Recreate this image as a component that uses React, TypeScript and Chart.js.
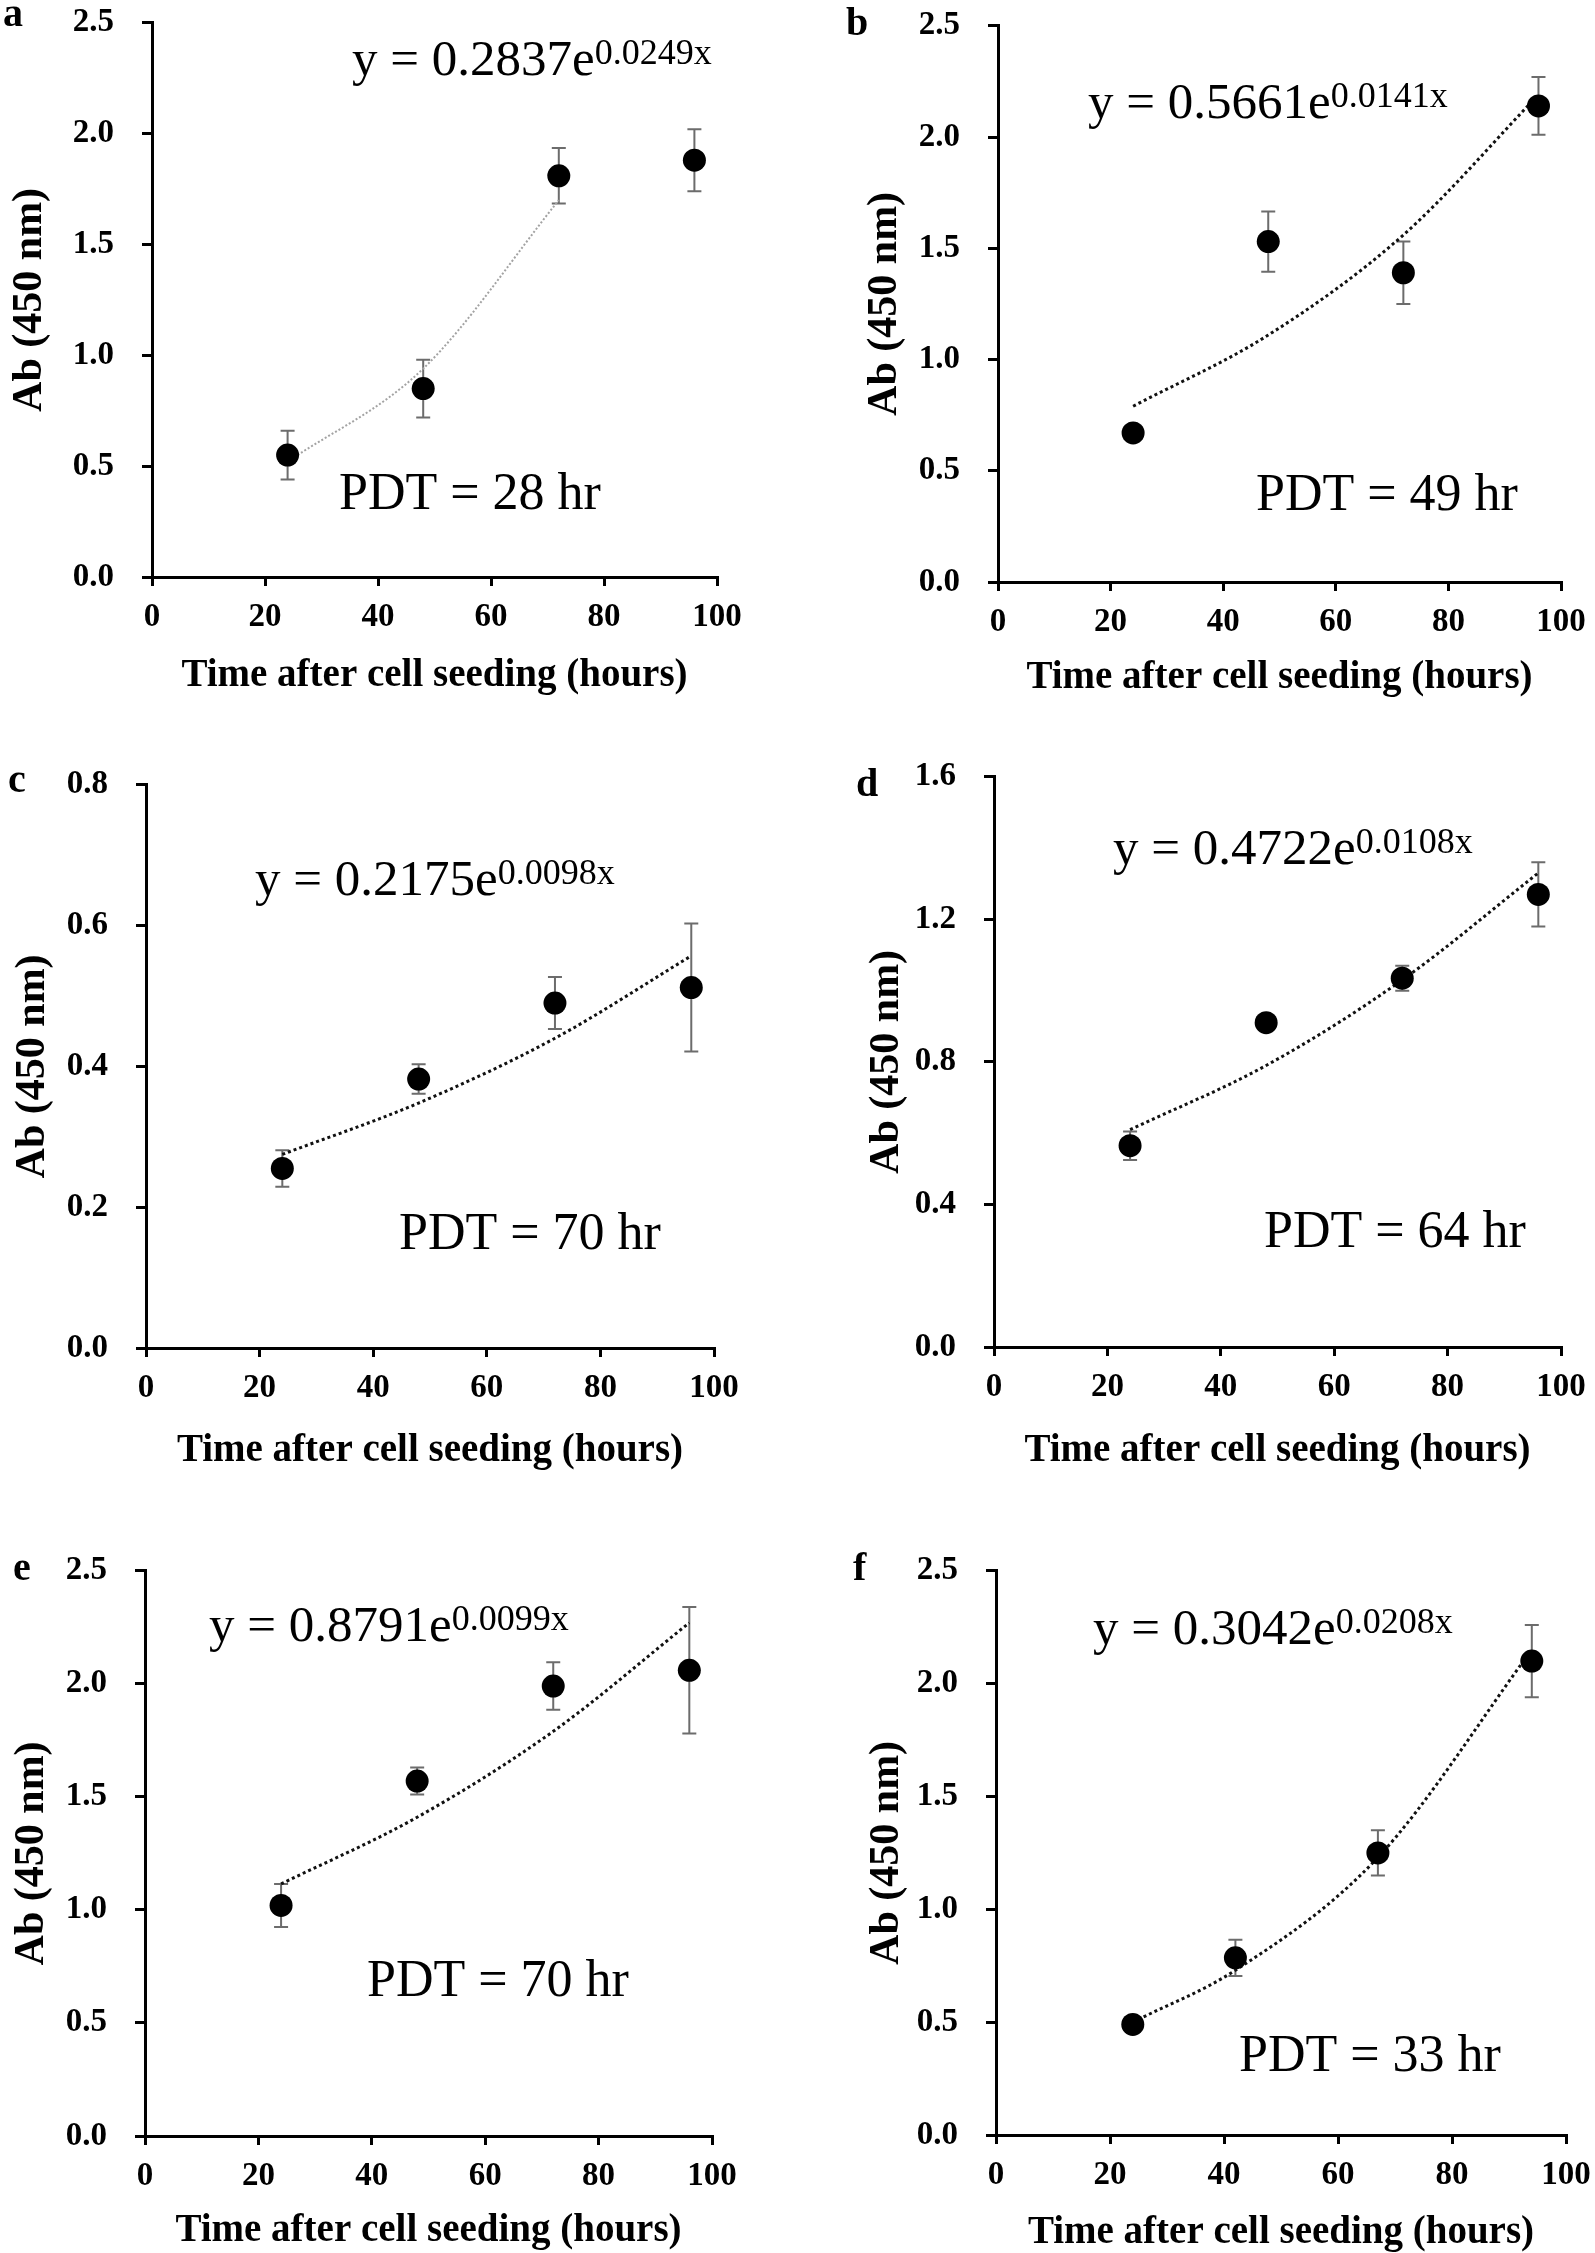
import React, { useEffect, useRef } from 'react';
import { Chart, registerables } from 'chart.js';

Chart.register(...registerables);

// ---------- data ----------
const xTicks = [0, 20, 40, 60, 80, 100];

const yTicksA = [0, 0.5, 1.0, 1.5, 2.0, 2.5];
const timeA = [24, 48, 72, 96];
const absA = [0.55, 0.85, 1.81, 1.88];
const errA = [0.11, 0.13, 0.125, 0.14];
const trendTimeA = [24, 48, 72];
const trendA = [0.52, 0.94, 1.7];

const yTicksB = [0, 0.5, 1.0, 1.5, 2.0, 2.5];
const timeB = [24, 48, 72, 96];
const absB = [0.67, 1.53, 1.39, 2.14];
const errB = [0.015, 0.135, 0.14, 0.13];
const trendTimeB = [24, 48, 72, 96];
const trendB = [0.79, 1.11, 1.56, 2.19];

const yTicksC = [0, 0.2, 0.4, 0.6, 0.8];
const timeC = [24, 48, 72, 96];
const absC = [0.255, 0.382, 0.49, 0.512];
const errC = [0.026, 0.021, 0.037, 0.091];
const trendTimeC = [24, 48, 72, 96];
const trendC = [0.275, 0.348, 0.44, 0.557];

const yTicksD = [0, 0.4, 0.8, 1.2, 1.6];
const timeD = [24, 48, 72, 96];
const absD = [0.565, 0.91, 1.035, 1.27];
const errD = [0.04, 0.01, 0.035, 0.09];
const trendTimeD = [24, 48, 72, 96];
const trendD = [0.61, 0.79, 1.03, 1.33];

const yTicksE = [0, 0.5, 1.0, 1.5, 2.0, 2.5];
const timeE = [24, 48, 72, 96];
const absE = [1.02, 1.57, 1.99, 2.06];
const errE = [0.095, 0.06, 0.105, 0.28];
const trendTimeE = [24, 48, 72, 96];
const trendE = [1.115, 1.41, 1.79, 2.27];

const yTicksF = [0, 0.5, 1.0, 1.5, 2.0, 2.5];
const timeF = [24, 42, 67, 94];
const absF = [0.49, 0.785, 1.25, 2.1];
const errF = [0.015, 0.08, 0.1, 0.16];
const trendTimeF = [24, 42, 67, 94];
const trendF = [0.5, 0.73, 1.23, 2.15];

const letters = ['a', 'b', 'c', 'd', 'e', 'f'];
const eqMain = ['y = 0.2837e', 'y = 0.5661e', 'y = 0.2175e', 'y = 0.4722e', 'y = 0.8791e', 'y = 0.3042e'];
const eqSup = ['0.0249x', '0.0141x', '0.0098x', '0.0108x', '0.0099x', '0.0208x'];
const pdtText = ['PDT = 28 hr', 'PDT = 49 hr', 'PDT = 70 hr', 'PDT = 64 hr', 'PDT = 70 hr', 'PDT = 33 hr'];

const xTitle = 'Time after cell seeding (hours)';
const yTitle = 'Ab (450 nm)';

// ---------- layout (page pixel positions) ----------
const layouts = [
  { ax: 152, ar: 717, at: 20, ab: 577, yT: 122, xT: 99, lx: 3, ly: 26, ex: 352, ey: 75, px: 339, py: 509, trendColor: '#a3a3a3', trendDash: [2, 2], trendWidth: 2 },
  { ax: 998, ar: 1561, at: 23, ab: 582, yT: 113, xT: 96, lx: 846, ly: 35, ex: 1088, ey: 118, px: 1256, py: 510, trendColor: '#111', trendDash: [3, 3], trendWidth: 3 },
  { ax: 146, ar: 714, at: 782, ab: 1348, yT: 113, xT: 103, lx: 8, ly: 792, ex: 255, ey: 895, px: 399, py: 1249, trendColor: '#111', trendDash: [3, 3], trendWidth: 3 },
  { ax: 994, ar: 1561, at: 774, ab: 1347, yT: 107, xT: 104, lx: 856, ly: 796, ex: 1113, ey: 864, px: 1264, py: 1247, trendColor: '#111', trendDash: [3, 3], trendWidth: 3 },
  { ax: 145, ar: 712, at: 1568, ab: 2136, yT: 113, xT: 95, lx: 13, ly: 1580, ex: 209, ey: 1641, px: 367, py: 1996, trendColor: '#111', trendDash: [3, 3], trendWidth: 3 },
  { ax: 996, ar: 1566, at: 1568, ab: 2135, yT: 109, xT: 98, lx: 853, ly: 1580, ex: 1093, ey: 1644, px: 1239, py: 2071, trendColor: '#111', trendDash: [3, 3], trendWidth: 3 },
];

const series = [
  { yTicks: yTicksA, time: timeA, abs: absA, err: errA, tTime: trendTimeA, trend: trendA },
  { yTicks: yTicksB, time: timeB, abs: absB, err: errB, tTime: trendTimeB, trend: trendB },
  { yTicks: yTicksC, time: timeC, abs: absC, err: errC, tTime: trendTimeC, trend: trendC },
  { yTicks: yTicksD, time: timeD, abs: absD, err: errD, tTime: trendTimeD, trend: trendD },
  { yTicks: yTicksE, time: timeE, abs: absE, err: errE, tTime: trendTimeE, trend: trendE },
  { yTicks: yTicksF, time: timeF, abs: absF, err: errF, tTime: trendTimeF, trend: trendF },
];

const FAMILY = '"Liberation Serif", "Times New Roman", serif';
const PAD_L = 175;
const PAD_T = 45;
const PAD_R = 45;
const PAD_B = 130;
const TICK_FONT = 33;
const XTITLE_FONT = 39;
const YTITLE_FONT = 42;

function Panel({ idx }: { idx: number }) {
  const ref = useRef<HTMLCanvasElement | null>(null);
  const L = layouts[idx];
  const S = series[idx];
  const cw = L.ar - L.ax + PAD_L + PAD_R;
  const ch = L.ab - L.at + PAD_T + PAD_B;
  const cx = L.ax - PAD_L;
  const cy = L.at - PAD_T;

  useEffect(() => {
    if (!ref.current) return;
    const errorBars = {
      id: 'errorBars' + idx,
      beforeDatasetsDraw(chart: any) {
        const { ctx } = chart;
        const xs = chart.scales.x;
        const ys = chart.scales.y;
        ctx.save();
        ctx.strokeStyle = '#6c6c6c';
        ctx.lineWidth = 2;
        S.time.forEach((t: number, i: number) => {
          const px = xs.getPixelForValue(t);
          const top = ys.getPixelForValue(S.abs[i] + S.err[i]);
          const bot = ys.getPixelForValue(S.abs[i] - S.err[i]);
          ctx.beginPath();
          ctx.moveTo(px, top);
          ctx.lineTo(px, bot);
          ctx.moveTo(px - 7, top);
          ctx.lineTo(px + 7, top);
          ctx.moveTo(px - 7, bot);
          ctx.lineTo(px + 7, bot);
          ctx.stroke();
        });
        ctx.restore();
      },
    };
    const annotations = {
      id: 'annot' + idx,
      afterDraw(chart: any) {
        const { ctx } = chart;
        ctx.save();
        ctx.fillStyle = '#000';
        ctx.textAlign = 'left';
        ctx.textBaseline = 'alphabetic';
        ctx.font = `bold 40px ${FAMILY}`;
        ctx.fillText(letters[idx], L.lx - cx, L.ly - cy);
        ctx.font = `51px ${FAMILY}`;
        ctx.fillText(eqMain[idx], L.ex - cx, L.ey - cy);
        const w = ctx.measureText(eqMain[idx]).width;
        ctx.font = `36px ${FAMILY}`;
        ctx.fillText(eqSup[idx], L.ex - cx + w, L.ey - cy - 11);
        ctx.font = `52px ${FAMILY}`;
        ctx.fillText(pdtText[idx], L.px - cx, L.py - cy);
        ctx.restore();
      },
    };

    const chart = new Chart(ref.current, {
      type: 'scatter',
      data: {
        datasets: [
          {
            type: 'line',
            label: 'trend',
            data: S.tTime.map((t: number, i: number) => ({ x: t, y: S.trend[i] })),
            borderColor: L.trendColor,
            borderDash: L.trendDash,
            borderWidth: L.trendWidth,
            pointRadius: 0,
            fill: false,
            cubicInterpolationMode: 'monotone',
            order: 2,
          } as any,
          {
            label: 'Ab',
            data: S.time.map((t: number, i: number) => ({ x: t, y: S.abs[i] })),
            pointRadius: 11.5,
            pointBackgroundColor: '#000',
            pointBorderColor: '#000',
            pointBorderWidth: 0,
            showLine: false,
            order: 1,
          },
        ],
      },
      options: {
        responsive: false,
        animation: false,
        devicePixelRatio: 1,
        events: [],
        layout: { padding: { top: PAD_T, right: PAD_R, left: 0, bottom: 0 } },
        plugins: { legend: { display: false }, tooltip: { enabled: false } },
        scales: {
          x: {
            type: 'linear',
            min: 0,
            max: 100,
            afterBuildTicks: (scale: any) => {
              scale.ticks = xTicks.map((v) => ({ value: v }));
            },
            afterFit: (scale: any) => {
              scale.height = PAD_B;
            },
            ticks: {
              color: '#000',
              font: { family: FAMILY, size: TICK_FONT, weight: 'bold' },
              padding: 12,
              maxRotation: 0,
              autoSkip: false,
              callback: (v: any) => String(v),
            },
            grid: {
              drawOnChartArea: false,
              drawTicks: true,
              tickLength: 9,
              tickColor: '#000',
              tickWidth: 3,
              lineWidth: 3,
              color: '#000',
            },
            border: { display: true, color: '#000', width: 3 },
            title: {
              display: true,
              text: xTitle,
              color: '#000',
              font: { family: FAMILY, size: XTITLE_FONT, weight: 'bold' },
              padding: { top: 0, bottom: PAD_B - L.xT - XTITLE_FONT * 0.6 },
            },
          },
          y: {
            type: 'linear',
            min: 0,
            max: S.yTicks[S.yTicks.length - 1],
            afterBuildTicks: (scale: any) => {
              scale.ticks = S.yTicks.map((v: number) => ({ value: v }));
            },
            afterFit: (scale: any) => {
              scale.width = PAD_L;
            },
            ticks: {
              color: '#000',
              font: { family: FAMILY, size: TICK_FONT, weight: 'bold' },
              padding: 28,
              autoSkip: false,
              callback: (v: any) => Number(v).toFixed(1),
            },
            grid: {
              drawOnChartArea: false,
              drawTicks: true,
              tickLength: 10,
              tickColor: '#000',
              tickWidth: 3,
              lineWidth: 3,
              color: '#000',
            },
            border: { display: true, color: '#000', width: 3 },
            title: {
              display: true,
              text: yTitle,
              color: '#000',
              font: { family: FAMILY, size: YTITLE_FONT, weight: 'bold' },
              padding: { top: PAD_L - L.yT - YTITLE_FONT * 0.6, bottom: 0 },
            },
          },
        },
      },
      plugins: [errorBars, annotations],
    } as any);
    return () => chart.destroy();
  }, []);

  return (
    <canvas
      ref={ref}
      width={cw}
      height={ch}
      style={{ position: 'absolute', left: cx, top: cy, width: cw, height: ch }}
    />
  );
}

export default function App() {
  return (
    <div
      style={{
        position: 'absolute',
        left: 0,
        top: 0,
        width: 1595,
        height: 2253,
        overflow: 'hidden',
        background: '#fff',
      }}
    >
      {letters.map((_, i) => (
        <Panel key={i} idx={i} />
      ))}
    </div>
  );
}
